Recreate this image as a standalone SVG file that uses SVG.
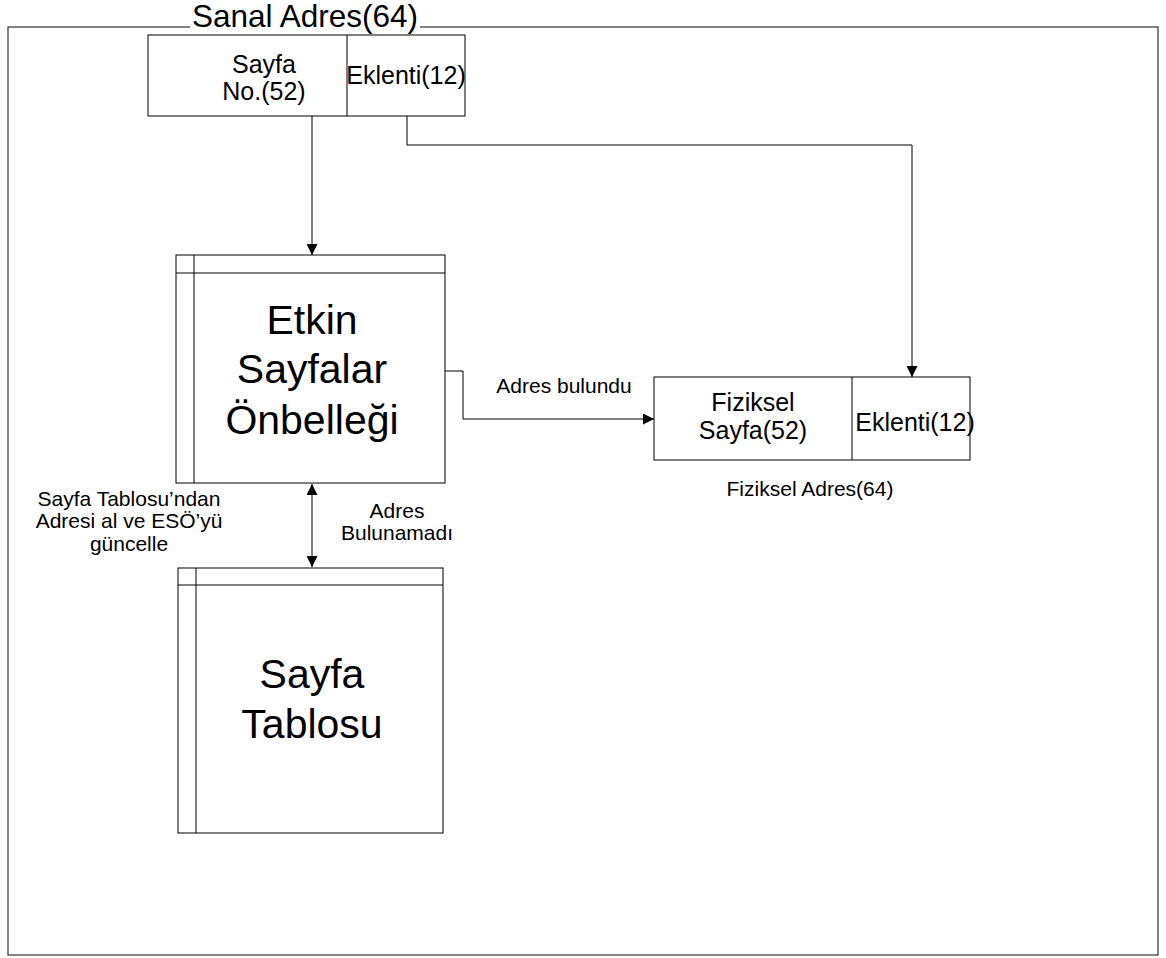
<svg xmlns="http://www.w3.org/2000/svg" width="1166" height="958" viewBox="0 0 1166 958">
<style>
.box{fill:#fff;stroke:#000;stroke-width:1}
.ln{fill:none;stroke:#000;stroke-width:1}
.t{font-family:"Liberation Sans",Arial,sans-serif;fill:#000;text-anchor:middle}
</style>
<defs>
<marker id="ah" markerWidth="11" markerHeight="11" refX="11" refY="5.5" orient="auto" markerUnits="userSpaceOnUse">
<path d="M0,0 L11,5.5 L0,11 Z" fill="#000"/>
</marker>
<marker id="as" markerWidth="11" markerHeight="11" refX="0" refY="5.5" orient="auto" markerUnits="userSpaceOnUse">
<path d="M11,0 L0,5.5 L11,11 Z" fill="#000"/>
</marker>
</defs>
<rect x="0" y="0" width="1166" height="958" fill="#fff"/>
<rect x="8" y="27" width="1150" height="928" fill="none" stroke="#333" stroke-width="1.2"/>
<g id="sanal-title">
<rect x="190" y="3" width="230" height="26" fill="#fff"/>
<text class="t" x="305" y="27" font-size="31.5">Sanal Adres(64)</text>
</g>
<g id="sanal-adres">
<rect class="box" x="148" y="35" width="317" height="81"/>
<line class="ln" x1="347" y1="35" x2="347" y2="116"/>
<text class="t" x="264" y="73" font-size="25">Sayfa</text>
<text class="t" x="264" y="100" font-size="25">No.(52)</text>
<text class="t" x="406" y="84" font-size="25">Eklenti(12)</text>
</g>
<g id="etkin">
<rect class="box" x="176" y="255" width="269" height="228"/>
<line class="ln" x1="176" y1="273" x2="445" y2="273"/>
<line class="ln" x1="194" y1="255" x2="194" y2="483"/>
<text class="t" x="312" y="334" font-size="41">Etkin</text>
<text class="t" x="312" y="383" font-size="41">Sayfalar</text>
<text class="t" x="312" y="434" font-size="41">Önbelleği</text>
</g>
<g id="sayfa-tablosu">
<rect class="box" x="178" y="568" width="265" height="265"/>
<line class="ln" x1="178" y1="585" x2="443" y2="585"/>
<line class="ln" x1="196" y1="568" x2="196" y2="833"/>
<text class="t" x="312" y="688" font-size="41">Sayfa</text>
<text class="t" x="312" y="738" font-size="41">Tablosu</text>
</g>
<g id="fiziksel">
<rect class="box" x="654" y="377" width="316" height="83"/>
<line class="ln" x1="852" y1="377" x2="852" y2="460"/>
<text class="t" x="753" y="411" font-size="25">Fiziksel</text>
<text class="t" x="753" y="439" font-size="25">Sayfa(52)</text>
<text class="t" x="915" y="431" font-size="25">Eklenti(12)</text>
<text class="t" x="810" y="496" font-size="21">Fiziksel Adres(64)</text>
</g>
<g id="connectors">
<line class="ln" x1="312" y1="116" x2="312" y2="255" marker-end="url(#ah)"/>
<polyline class="ln" points="407,116 407,145 912,145 912,377" marker-end="url(#ah)"/>
<polyline class="ln" points="445,371 463,371 463,419 654,419" marker-end="url(#ah)"/>
<line class="ln" x1="312" y1="484" x2="312" y2="567" marker-start="url(#as)" marker-end="url(#ah)"/>
</g>
<g id="labels">
<text class="t" x="564" y="393" font-size="21">Adres bulundu</text>
<text class="t" x="397" y="518" font-size="21">Adres</text>
<text class="t" x="397" y="540" font-size="21">Bulunamadı</text>
<text class="t" x="129" y="506" font-size="21">Sayfa Tablosu’ndan</text>
<text class="t" x="129" y="528" font-size="21">Adresi al ve ESÖ’yü</text>
<text class="t" x="129" y="551" font-size="21">güncelle</text>
</g>
</svg>
